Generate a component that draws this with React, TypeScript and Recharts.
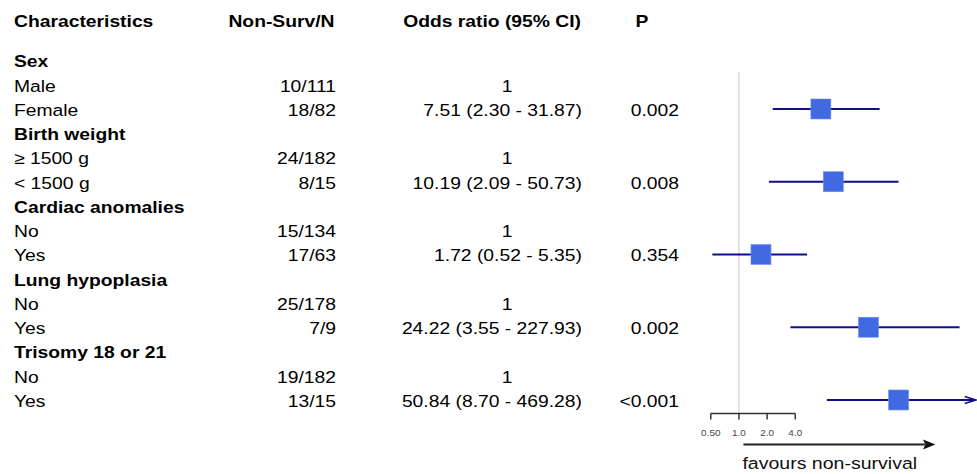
import React from 'react';
import { ScatterChart, Scatter, XAxis, YAxis, ReferenceLine } from 'recharts';

// ---------- data ----------
const HEADERS = ['Characteristics', 'Non-Surv/N', 'Odds ratio (95% CI)', 'P'];
const ROW_LABELS = [
  'Sex', 'Male', 'Female',
  'Birth weight', '≥ 1500 g', '< 1500 g',
  'Cardiac anomalies', 'No', 'Yes',
  'Lung hypoplasia', 'No', 'Yes',
  'Trisomy 18 or 21', 'No', 'Yes',
];
const ROW_IS_GROUP = [
  true, false, false,
  true, false, false,
  true, false, false,
  true, false, false,
  true, false, false,
];
const NON_SURV = [
  '', '10/111', '18/82',
  '', '24/182', '8/15',
  '', '15/134', '17/63',
  '', '25/178', '7/9',
  '', '19/182', '13/15',
];
const ODDS_RATIO: (number | null)[] = [
  null, 1, 7.51,
  null, 1, 10.19,
  null, 1, 1.72,
  null, 1, 24.22,
  null, 1, 50.84,
];
const CI_LOW: (number | null)[] = [
  null, null, 2.3,
  null, null, 2.09,
  null, null, 0.52,
  null, null, 3.55,
  null, null, 8.7,
];
const CI_HIGH: (number | null)[] = [
  null, null, 31.87,
  null, null, 50.73,
  null, null, 5.35,
  null, null, 227.93,
  null, null, 469.28,
];
const P_VALUES = [
  '', '', '0.002',
  '', '', '0.008',
  '', '', '0.354',
  '', '', '0.002',
  '', '', '<0.001',
];
const X_TICKS = [0.5, 1, 2, 4];
const X_TICK_LABELS = ['0.50', '1.0', '2.0', '4.0'];
const X_DOMAIN: [number, number] = [0.3, 350];
const CLIP_HIGH = 340;
const FAVOURS_LABEL = 'favours non-survival';

// ---------- derived tables ----------
const HEADER_ROW = -1.682;
const Y_DOMAIN: [number, number] = [HEADER_ROW, 14.557];
const Y_TICKS = [HEADER_ROW, ...ROW_LABELS.map((_, i) => i)];

const squares = ODDS_RATIO.map((or, i) =>
  CI_LOW[i] != null && or != null ? { x: or, y: i } : null
).filter(Boolean) as { x: number; y: number }[];

const ciSegments = ODDS_RATIO.map((or, i) => {
  const lo = CI_LOW[i];
  const hi = CI_HIGH[i];
  if (lo == null || hi == null) return null;
  return [
    { x: lo, y: i, clipped: false },
    { x: Math.min(hi, CLIP_HIGH), y: i, clipped: hi > CLIP_HIGH },
  ];
}).filter(Boolean) as { x: number; y: number; clipped: boolean }[][];

const orText = (i: number) => {
  const or = ODDS_RATIO[i];
  const lo = CI_LOW[i];
  const hi = CI_HIGH[i];
  if (or == null) return '';
  if (lo == null || hi == null) return String(or);
  return `${or.toFixed(2)} (${lo.toFixed(2)} - ${hi.toFixed(2)})`;
};

// ---------- styles ----------
const FONT = "'Liberation Sans', Arial, Helvetica, sans-serif";
const SX = 1.17;
const TEXT_SIZE = 16.5;
const SQUARE = 20;
const SQUARE_FILL = '#4169E1';
const CI_STROKE = '#0f0f8c';

function T(props: {
  x: number; y: number; anchor?: 'start' | 'middle' | 'end'; bold?: boolean;
  size?: number; fill?: string; children: React.ReactNode;
}) {
  const { x, y, anchor = 'start', bold = false, size = TEXT_SIZE, fill = '#000', children } = props;
  return (
    <text
      transform={`translate(${x},${y}) scale(${SX},1)`}
      x={0}
      y={0}
      textAnchor={anchor}
      fontFamily={FONT}
      fontSize={size}
      fontWeight={bold ? 'bold' : 'normal'}
      fill={fill}
    >
      {children}
    </text>
  );
}

const COL_LABEL_X = 14;
const COL_N_X = 336;
const COL_OR_X = 582;
const COL_OR_REF_X = 507;
const COL_P_X = 679;
const COL_P_HEAD_X = 642;
const BASE_DY = 7;

function RowTick(props: any) {
  const { y, payload } = props;
  const v = payload?.value as number;
  const by = y + BASE_DY;
  if (v < 0) {
    return (
      <g>
        <T x={COL_LABEL_X} y={by} bold>{HEADERS[0]}</T>
        <T x={COL_N_X - 1.5} y={by} anchor="end" bold>{HEADERS[1]}</T>
        <T x={COL_OR_X - 1} y={by} anchor="end" bold>{HEADERS[2]}</T>
        <T x={COL_P_HEAD_X} y={by} anchor="middle" bold>{HEADERS[3]}</T>
      </g>
    );
  }
  const i = Math.round(v);
  const isRef = ODDS_RATIO[i] != null && CI_LOW[i] == null;
  return (
    <g>
      <T x={COL_LABEL_X} y={by} bold={ROW_IS_GROUP[i]}>{ROW_LABELS[i]}</T>
      {NON_SURV[i] ? <T x={COL_N_X} y={by} anchor="end">{NON_SURV[i]}</T> : null}
      {ODDS_RATIO[i] != null ? (
        isRef ? (
          <T x={COL_OR_REF_X} y={by} anchor="middle">{orText(i)}</T>
        ) : (
          <T x={COL_OR_X} y={by} anchor="end">{orText(i)}</T>
        )
      ) : null}
      {P_VALUES[i] ? <T x={COL_P_X} y={by} anchor="end">{P_VALUES[i]}</T> : null}
    </g>
  );
}

function XTick(props: any) {
  const { x, y, payload, index } = props;
  const v = payload?.value as number;
  const idx = X_TICKS.indexOf(v);
  return (
    <g>
      <line x1={x} y1={y} x2={x} y2={y + 6} stroke="#333" strokeWidth={1.5} />
      <T x={x} y={y + 22.5} anchor="middle" size={8.5} fill="#444">
        {X_TICK_LABELS[idx >= 0 ? idx : index]}
      </T>
      {v === 1 ? (
        <g>
          <line x1={x + 4.5} y1={y + 31} x2={x + 186} y2={y + 31} stroke="#222" strokeWidth={2} />
          <polygon
            points={`${x + 196.5},${y + 31} ${x + 184},${y + 26} ${x + 186.5},${y + 31} ${x + 184},${y + 36}`}
            fill="#111"
          />
          <T x={x + 3.5} y={y + 55} size={16.7} fill="#111">{FAVOURS_LABEL}</T>
        </g>
      ) : null}
    </g>
  );
}

function CiEnd(props: any) {
  const { cx, cy, payload } = props;
  if (!payload?.clipped) return <g />;
  return (
    <polyline
      points={`${cx - 11},${cy - 3.5} ${cx},${cy} ${cx - 11},${cy + 3.5}`}
      fill="none"
      stroke={CI_STROKE}
      strokeWidth={1.6}
    />
  );
}

function SquareShape(props: any) {
  const { cx, cy } = props;
  return (
    <rect
      x={cx - SQUARE / 2}
      y={cy - SQUARE / 2}
      width={SQUARE}
      height={SQUARE}
      fill={SQUARE_FILL}
      stroke="#6f8ff0"
      strokeWidth={0.6}
    />
  );
}

export default function App() {
  return (
    <div style={{ position: 'absolute', left: 0, top: 0, width: 977, height: 474, background: '#fff' }}>
      <ScatterChart width={977} height={474} margin={{ top: 19.7, right: 0, bottom: 0, left: 0 }}>
        <XAxis
          type="number"
          dataKey="x"
          scale="log"
          domain={X_DOMAIN}
          allowDataOverflow
          ticks={X_TICKS}
          interval={0}
          axisLine={false}
          tickLine={false}
          tickSize={0}
          tickMargin={0}
          height={60.5}
          tick={<XTick />}
        />
        <YAxis
          type="number"
          dataKey="y"
          domain={Y_DOMAIN}
          reversed
          allowDataOverflow
          ticks={Y_TICKS}
          interval={0}
          axisLine={false}
          tickLine={false}
          tickSize={0}
          tickMargin={0}
          width={690}
          tick={<RowTick />}
        />
        <ReferenceLine
          segment={[{ x: 1, y: 0.47 }, { x: 1, y: Y_DOMAIN[1] }]}
          stroke="#d9d9d9"
          strokeWidth={1.5}
        />
        <ReferenceLine
          segment={[{ x: X_TICKS[0], y: Y_DOMAIN[1] }, { x: X_TICKS[X_TICKS.length - 1], y: Y_DOMAIN[1] }]}
          stroke="#333"
          strokeWidth={1.5}
        />
        {ciSegments.map((seg, k) => (
          <Scatter
            key={`ci-${k}`}
            data={seg}
            line={{ stroke: CI_STROKE, strokeWidth: 2 }}
            lineType="joint"
            shape={<CiEnd />}
            isAnimationActive={false}
          />
        ))}
        <Scatter data={squares} shape={<SquareShape />} isAnimationActive={false} />
      </ScatterChart>
    </div>
  );
}
